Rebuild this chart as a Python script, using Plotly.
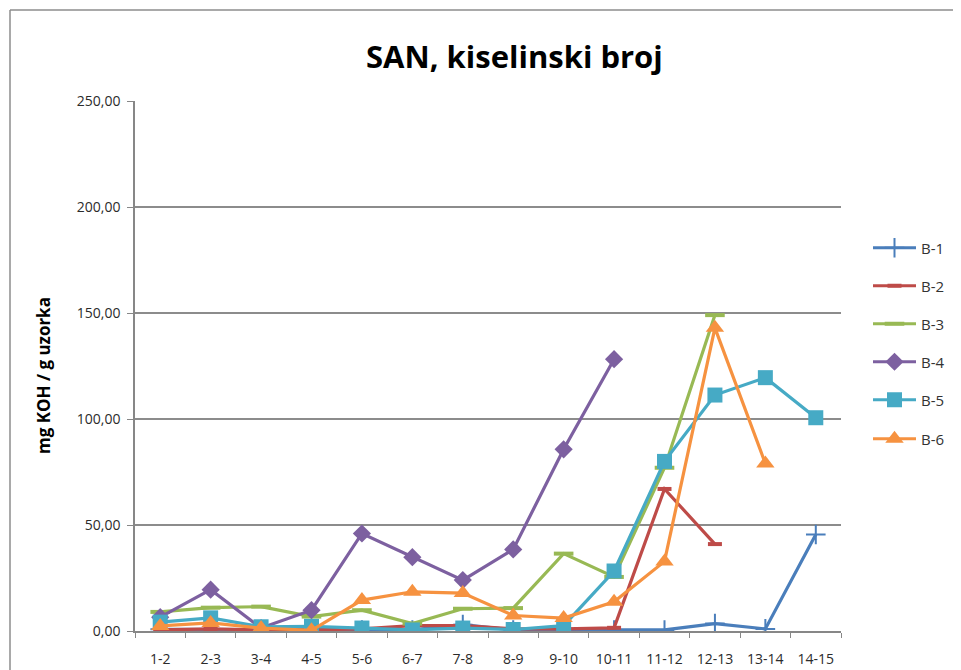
import plotly.graph_objects as go

categories = ["1-2", "2-3", "3-4", "4-5", "5-6", "6-7", "7-8", "8-9", "9-10",
              "10-11", "11-12", "12-13", "13-14", "14-15"]

b1 = [0.8, 0.8, 0.5, 0.5, 0.5, 0.5, 3.0, 0.5, 0.5, 0.5, 0.5, 3.5, 1.0, 45.5]
b2 = [0.5, 1.0, 0.5, 0.5, 1.0, 2.5, 2.5, 1.0, 1.0, 1.5, 67.0, 41.0, None, None]
b3 = [9.0, 11.0, 11.5, 6.8, 9.8, 3.5, 10.5, 10.8, 36.5, 25.5, 77.0, 149.0, None, None]
b4 = [6.5, 19.5, 1.4, 9.8, 46.0, 34.8, 24.0, 38.5, 85.7, 128.2, None, None, None, None]
b5 = [4.2, 6.2, 2.0, 2.2, 1.4, 0.5, 1.4, 0.7, 2.5, 28.3, 80.0, 111.3, 119.5, 100.6]
b6 = [2.4, 3.8, 1.4, 0.3, 14.6, 18.5, 17.9, 7.3, 6.1, 13.8, 32.8, 143.0, 79.0, None]

series = [
    ("B-1", b1, "#4A7EBB", dict(symbol="cross-thin", size=14, line=dict(width=2, color="#4A7EBB"))),
    ("B-2", b2, "#BE4B48", dict(symbol="line-ew", size=10, line=dict(width=4, color="#BE4B48"))),
    ("B-3", b3, "#98B954", dict(symbol="line-ew", size=14, line=dict(width=4, color="#98B954"))),
    ("B-4", b4, "#7D60A0", dict(symbol="diamond", size=14, color="#7D60A0")),
    ("B-5", b5, "#46AAC5", dict(symbol="square", size=15, color="#46AAC5")),
    ("B-6", b6, "#F69240", dict(symbol="triangle-up", size=16, color="#F69240")),
]

# page has an 8px body margin: figure sized so that on-screen pixels match
OFF = 8
L, T, PW, PH = 135 - OFF, 101 - OFF, 706, 530
W, H = 961 - OFF, 670 - OFF


def px(x):
    return (x - OFF - L) / PW


def py(y):
    return (T + PH - (y - OFF)) / PH


legend_py = [248, 286, 324, 362, 400, 439]

fig = go.Figure()
layout_legends = {}
for i, (name, vals, col, mk) in enumerate(series):
    lg = "legend" if i == 0 else f"legend{i+1}"
    fig.add_trace(go.Scatter(
        x=categories, y=vals, name=name, mode="lines+markers",
        line=dict(color=col, width=3.2), marker=mk, connectgaps=False,
        legend=lg,
    ))
    layout_legends[lg] = dict(
        x=px(868), xanchor="left",
        y=py(legend_py[i]), yanchor="middle", itemwidth=43,
        bgcolor="rgba(0,0,0,0)", font=dict(family="Open Sans", size=15, color="#333333"),
    )

fig.update_layout(
    width=W, height=H,
    margin=dict(l=L, r=W - L - PW, t=T, b=H - T - PH, autoexpand=False),
    plot_bgcolor="white", paper_bgcolor="white",
    separators=", ",
    font=dict(family="Open Sans", size=13, color="#333333"),
    xaxis=dict(
        type="category", range=[-0.5, 13.5], tickson="boundaries",
        ticks="outside", ticklen=5, tickcolor="#878787",
        showline=True, linecolor="#878787", linewidth=1.5,
        showgrid=False, ticklabelstandoff=14, automargin=False,
        tickfont=dict(family="Open Sans", size=14, color="#2b2b2b"),
    ),
    yaxis=dict(
        range=[0, 250], dtick=50, tickformat=".2f",
        ticks="outside", ticklen=6, tickcolor="#878787",
        showline=True, linecolor="#878787", linewidth=1.5,
        showgrid=True, gridcolor="#8C8C8C", gridwidth=1.5,
        zeroline=False, ticklabelstandoff=4, automargin=False,
        tickfont=dict(family="Open Sans", size=14, color="#2b2b2b"),
    ),
    showlegend=True,
    **layout_legends,
)

fig.add_annotation(
    text="<b>SAN, kiselinski broj</b>", xref="paper", yref="paper",
    x=px(515), y=py(56), xanchor="center", yanchor="middle",
    showarrow=False, font=dict(family="Open Sans", size=31, color="#000000"),
)
fig.add_annotation(
    text="<b>mg KOH / g uzorka</b>", xref="paper", yref="paper",
    x=px(43), y=py(376), xanchor="center", yanchor="middle",
    textangle=-90, showarrow=False,
    font=dict(family="Open Sans", size=17, color="#000000"),
)

# chart-area border (left and top edges visible in the crop)
fig.add_shape(type="line", xref="paper", yref="paper",
              x0=px(10), x1=px(975), y0=py(10), y1=py(10),
              line=dict(color="#8C8C8C", width=1.5))
fig.add_shape(type="line", xref="paper", yref="paper",
              x0=px(10), x1=px(10), y0=py(10), y1=py(700),
              line=dict(color="#8C8C8C", width=1.5))

fig.write_html("out.html")
